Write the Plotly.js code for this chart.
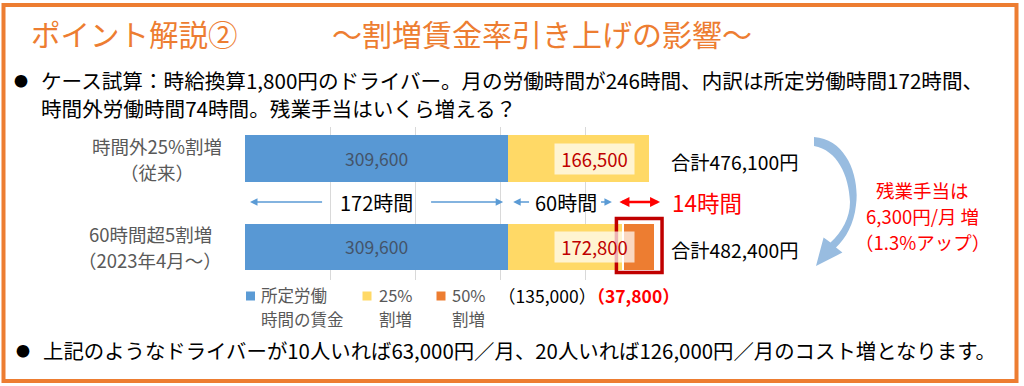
<!DOCTYPE html>
<html><head><meta charset="utf-8">
<script src="https://cdn.plot.ly/plotly-3.0.1.min.js"></script>
<style>html,body{margin:0;padding:0;background:#fff}</style>
</head><body>
<div id="chart" style="width:1024px;height:386px"></div>
<script>
// ---------- data ----------
const categories = ["時間外25%割増（従来）", "60時間超5割増（2023年4月～）"];
const categoryLines = [["時間外25%割増", "（従来）"], ["60時間超5割増", "（2023年4月～）"]];
const baseWage = [309600, 309600];      // 所定労働時間の賃金
const premium25 = [166500, 135000];     // 25%割増
const premium50 = [0, 37800];           // 50%割増
const hours = [172, 60, 14];            // 所定 / 25%割増 / 50%割増
const seriesNames = [["所定労働", "時間の賃金"], ["25%", "割増"], ["50%", "割増"]];
const xTicks = [0, 100000, 200000, 300000, 400000, 500000];
const drivers = [10, 20];

// ---------- geometry ----------
const FONT = '"Noto Sans CJK JP", "Noto Sans", sans-serif';
const L = 245, R = 670, T = 127, B = 280;
const XMAX = 500000;
const YR = [-0.374, 1.359];
const fx = px => (px - L) / (R - L);
const fy = py => (B - py) / (B - T);
const d2p = v => L + v * (R - L) / XMAX;
const p2d = px => px * XMAX / (R - L);
const fmt = n => n.toLocaleString('en-US');
const ctx = document.createElement('canvas').getContext('2d');
const textW = (t, size) => { ctx.font = size + 'px ' + FONT; return ctx.measureText(t).width; };

const totals = baseWage.map((b, i) => b + premium25[i] + premium50[i]);
const overtime = premium25.map((p, i) => p + premium50[i]);
const diff = totals[1] - totals[0];
const pct = (diff / totals[0] * 100).toFixed(1);
const catOrder = categories.slice().reverse();
const catPy = c => B - (catOrder.indexOf(c) - YR[0]) * (B - T) / (YR[1] - YR[0]);

const GRAY = '#595959';
const traces = [
  {type: 'bar', orientation: 'h', name: seriesNames[0].join(''), y: categories, x: baseWage,
   marker: {color: '#5898D4'}, width: 0.53,
   texttemplate: '%{x:,}', textposition: 'inside', insidetextanchor: 'middle',
   textfont: {family: FONT, size: 17.5, color: '#44546A'},
   hoverinfo: 'skip', showlegend: false},
  {type: 'bar', orientation: 'h', name: seriesNames[1].join(''), y: categories, x: premium25,
   marker: {color: '#FFD966'}, width: 0.53, textposition: 'none',
   hoverinfo: 'skip', showlegend: false},
  {type: 'bar', orientation: 'h', name: seriesNames[2].join(''), y: categories, x: premium50,
   marker: {color: '#ED7D31', line: {color: '#ffffff', width: 1.5}}, width: 0.53, textposition: 'none',
   hoverinfo: 'skip', showlegend: false}
];

const ann = [];
function A(text, px, py, o) {
  o = o || {};
  ann.push(Object.assign({
    text: text, xref: 'paper', yref: 'paper', x: fx(px), y: fy(py),
    xanchor: 'left', yanchor: 'middle', showarrow: false,
    font: {family: FONT, size: 18, color: '#000'}
  }, o));
}
// title
A('ポイント解説②', 29, 33, {font: {family: FONT, size: 29.5, color: '#ED7D31'}});
A('～割増賃金率引き上げの影響～', 330, 33, {font: {family: FONT, size: 30, color: '#ED7D31'}});
// bullets
A('●', 21, 80, {xanchor: 'center', font: {family: FONT, size: 14, color: '#000'}});
A('ケース試算：時給換算1,800円のドライバー。月の労働時間が' + (hours[0] + hours[1] + hours[2]) +
  '時間、内訳は所定労働時間' + hours[0] + '時間、', 39, 80, {font: {family: FONT, size: 20.6, color: '#000'}});
A('時間外労働時間' + (hours[1] + hours[2]) + '時間。残業手当はいくら増える？', 39, 108,
  {font: {family: FONT, size: 20.6, color: '#000'}});
A('●', 23, 350, {xanchor: 'center', font: {family: FONT, size: 14, color: '#000'}});
A('上記のようなドライバーが' + drivers[0] + '人いれば' + fmt(diff * drivers[0]) + '円／月、' +
  drivers[1] + '人いれば' + fmt(diff * drivers[1]) + '円／月のコスト増となります。', 41, 350,
  {font: {family: FONT, size: 20.4, color: '#000'}});
// category labels (two centred lines, right edge at 222)
const CAT_SIZE = 18.5;
categories.forEach((c, i) => {
  const w = Math.max(textW(categoryLines[i][0], CAT_SIZE), textW(categoryLines[i][1], CAT_SIZE));
  const cx = 222 - w / 2;
  A(categoryLines[i][0], cx, catPy(c) - 13, {xanchor: 'center', font: {family: FONT, size: CAT_SIZE, color: GRAY}});
  A(categoryLines[i][1], cx, catPy(c) + 13, {xanchor: 'center', font: {family: FONT, size: CAT_SIZE, color: GRAY}});
});
// overtime labels in yellow segments + totals
categories.forEach((c, i) => {
  A(fmt(overtime[i]), 594.5, catPy(c), {xanchor: 'center', width: 79, height: 30,
    bgcolor: 'rgba(255,255,255,0.7)', borderpad: 0,
    font: {family: FONT, size: 18.5, color: '#C00000'}});
  A('合計' + fmt(totals[i]) + '円', 669, catPy(c) + 3, {font: {family: FONT, size: 19.3, color: '#000'}});
});
// hour arrows row
const rowY = 202;
const c172 = baseWage[0] / 2;
const c60 = baseWage[1] + premium25[1] / 2;
A(hours[0] + '時間', d2p(c172), rowY, {xanchor: 'center', font: {family: FONT, size: 20, color: '#000'}});
A(hours[1] + '時間', d2p(c60), rowY, {xanchor: 'center', font: {family: FONT, size: 20, color: '#000'}});
A(hours[2] + '時間', 670, rowY, {font: {family: FONT, size: 22.5, color: '#FF0000'}});
function arrow(xHead, xTail, color, width, both, size) {
  ann.push({text: '', xref: 'x', yref: 'paper', x: xHead, y: fy(rowY), axref: 'x', ax: xTail,
    ayref: 'pixel', ay: 0, showarrow: true, arrowhead: 2, arrowsize: size, arrowwidth: width,
    arrowcolor: color, arrowside: both ? 'end+start' : 'end', standoff: 0, startstandoff: 0});
}
const BLUE = '#5B9BD5';
arrow(p2d(5), p2d(d2p(c172) - 53 - L), BLUE, 1.5, false, 1);
arrow(baseWage[0] - p2d(5), p2d(d2p(c172) + 53 - L), BLUE, 1.5, false, 1);
arrow(baseWage[1] + p2d(5), p2d(d2p(c60) - 35 - L), BLUE, 1.5, false, 1);
arrow(baseWage[1] + premium25[1] - p2d(11), p2d(d2p(c60) + 34 - L), BLUE, 1.5, false, 1);
arrow(totals[1] + p2d(5), baseWage[1] + premium25[1] - p2d(5), '#FF0000', 2.5, true, 0.8);
// right-side red note
const noteLines = ['残業手当は', fmt(diff) + '円/月 増', '（' + pct + '%アップ）'];
noteLines.forEach((t, i) => A(t, 922, 190 + 26 * i, {xanchor: 'center', font: {family: FONT, size: 18.5, color: '#FF0000'}}));
// legend (custom, two-line labels)
const legendColors = ['#5B9BD5', '#FFD966', '#ED7D31'];
const legendSq = [250.5, 367, 441];
const legendTx = [259, 376.5, 450];
const shapes = [];
seriesNames.forEach((n, i) => {
  shapes.push({type: 'rect', xref: 'paper', yref: 'paper', x0: fx(legendSq[i] - 4.5), x1: fx(legendSq[i] + 4.5),
    y0: fy(300.5), y1: fy(291.5), fillcolor: legendColors[i], line: {width: 0}});
  A(n[0], legendTx[i], 295, {font: {family: FONT, size: 16.5, color: GRAY}});
  A(n[1], legendTx[i], 319, {font: {family: FONT, size: 16.5, color: GRAY}});
});
A('（' + fmt(premium25[1]) + '）<span style="color:#FF0000"><b>（' + fmt(premium50[1]) + '）</b></span>',
  496, 295, {font: {family: FONT, size: 17.5, color: '#000'}});

// red box around 50% segment
const s50 = baseWage[1] + premium25[1];
shapes.push({type: 'rect', xref: 'x', yref: 'paper', x0: s50 - p2d(6.5), x1: s50 + premium50[1] + p2d(7),
  y0: fy(catPy(categories[1]) + 25.5), y1: fy(catPy(categories[1]) - 28.5),
  line: {color: '#C00000', width: 3.5}, fillcolor: 'rgba(0,0,0,0)'});
// curved arrow
function path(pts) { return pts.map(s => typeof s === 'string' ? s : fx(s[0]) + ',' + fy(s[1])).join(' '); }
shapes.push({type: 'path', xref: 'paper', yref: 'paper', line: {width: 0}, fillcolor: '#98BCE0',
  path: path(['M', [814, 137], 'C', [846, 139], [860, 176], [856, 205], 'C', [854, 224], [846, 238], [836, 247.5],
    'L', [842.4, 252.6], 'L', [816, 266], 'L', [823.6, 237.4], 'L', [830.5, 242.5],
    'C', [842, 232], [850, 218], [850, 202], 'C', [849, 175], [837, 150], [814, 146], 'Z'])});
// frame
shapes.push({type: 'rect', xref: 'paper', yref: 'paper', x0: fx(3.5), x1: fx(1016.5), y0: fy(381), y1: fy(5),
  line: {color: '#ED7D31', width: 4}, fillcolor: 'rgba(0,0,0,0)'});

const layout = {
  width: 1024, height: 386,
  margin: {l: L, r: 1024 - R, t: T, b: 386 - B, pad: 0},
  paper_bgcolor: '#ffffff', plot_bgcolor: '#ffffff',
  barmode: 'stack', showlegend: false,
  font: {family: FONT},
  xaxis: {range: [0, XMAX], tickvals: xTicks, showticklabels: false, ticks: '', showgrid: true,
    gridcolor: '#D9D9D9', gridwidth: 1, zeroline: false, showline: false, fixedrange: true},
  yaxis: {type: 'category', categoryorder: 'array', categoryarray: catOrder, range: YR,
    showticklabels: false, showgrid: false, zeroline: false, showline: false, ticks: '', fixedrange: true},
  annotations: ann, shapes: shapes
};
Plotly.newPlot('chart', traces, layout, {staticPlot: true, displayModeBar: false});
</script>
</body></html>
